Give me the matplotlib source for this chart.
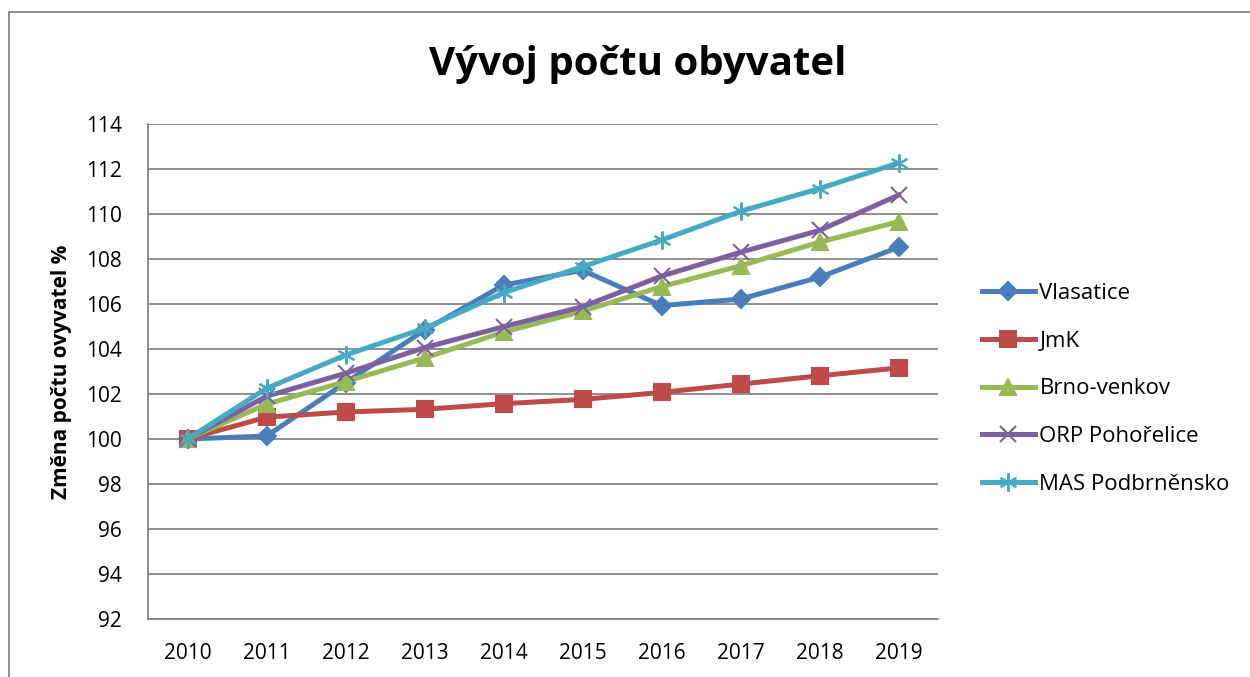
import matplotlib
matplotlib.use("Agg")
import matplotlib.pyplot as plt
from matplotlib.patches import Rectangle

plt.rcParams['font.family'] = ['Open Sans', 'DejaVu Sans']

years = ['2010', '2011', '2012', '2013', '2014', '2015', '2016', '2017', '2018', '2019']
vlasatice = [100, 100.13, 102.5, 104.84, 106.84, 107.5, 105.93, 106.22, 107.19, 108.52]
jmk = [100, 100.97, 101.2, 101.32, 101.57, 101.76, 102.07, 102.44, 102.81, 103.16]
brno_venkov = [100, 101.55, 102.55, 103.6, 104.75, 105.68, 106.77, 107.7, 108.75, 109.66]
orp = [100, 101.9, 102.92, 104.06, 104.99, 105.88, 107.24, 108.3, 109.27, 110.84]
mas = [100, 102.25, 103.73, 104.92, 106.5, 107.66, 108.84, 110.12, 111.13, 112.27]
y_ticks = [92, 94, 96, 98, 100, 102, 104, 106, 108, 110, 112, 114]

series = [
    ('Vlasatice', vlasatice, '#4A7EBB', 'D', 9),
    ('JmK', jmk, '#BE4B48', 's', 11),
    ('Brno-venkov', brno_venkov, '#98B954', '^', 11),
    ('ORP Pohořelice', orp, '#7D60A0', 'x', 11),
    ('MAS Podbrněnsko', mas, '#46AAC5', (6, 2, 0), 13),
]

fig = plt.figure(figsize=(12.5, 6.77), dpi=100)
ax = fig.add_axes([0.1184, 0.0857, 0.632, 0.7311])

x = list(range(len(years)))
for name, vals, col, mk, ms in series:
    ax.plot(x, vals, color=col, lw=3.6, marker=mk, markersize=ms,
            markeredgewidth=1.5, markeredgecolor=col, markerfacecolor=col, label=name)

ax.set_xlim(-0.5, len(years) - 0.5)
ax.set_ylim(92, 114)
ax.set_yticks(y_ticks)
ax.set_xticks(x)
ax.set_xticklabels(years)
ax.tick_params(axis='both', labelsize=15, colors='#000000', length=0)
ax.tick_params(axis='y', pad=19)
ax.tick_params(axis='x', pad=17)
ax.grid(axis='y', color='#868686', lw=1.3)
ax.set_axisbelow(True)
for s in ['top', 'right']:
    ax.spines[s].set_visible(False)
ax.spines['left'].set_color('#868686')
ax.spines['bottom'].set_color('#868686')
ax.spines['left'].set_linewidth(1.3)
ax.spines['bottom'].set_linewidth(1.3)

ax.set_ylabel('Změna počtu ovyvatel %', fontsize=15, fontweight='bold', labelpad=10)
fig.text(0.51, 0.904, 'Vývoj počtu obyvatel', fontsize=29, fontweight='bold',
         ha='center', va='center')

ax.legend(loc='center left', bbox_to_anchor=(1.03, 0.465), frameon=False,
          fontsize=16, handlelength=2.4, labelspacing=1.2, handletextpad=0.2)

fig.patches.append(Rectangle((0.007, -0.01), 1.0, 0.992, transform=fig.transFigure,
                             fill=False, edgecolor='#868686', lw=1.3))

fig.savefig('out.png', dpi=100)
